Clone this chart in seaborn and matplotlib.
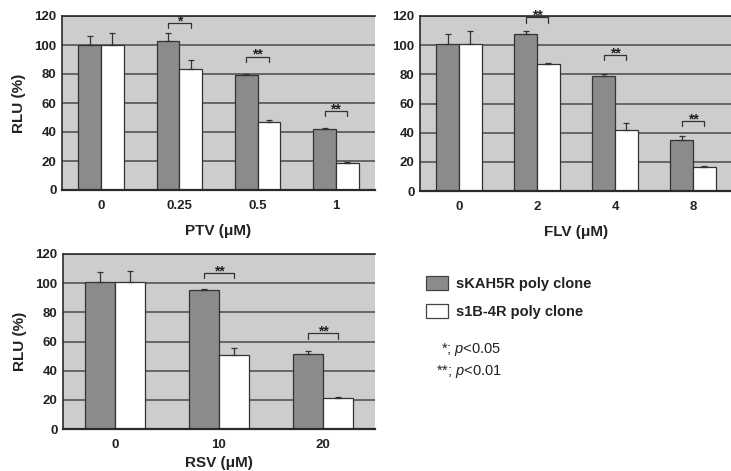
import matplotlib
matplotlib.use("Agg")
import matplotlib.pyplot as plt
import seaborn as sns
import pandas as pd

# ---------------- data ----------------
clones = ["sKAH5R poly clone", "s1B-4R poly clone"]

ptv_doses = ["0", "0.25", "0.5", "1"]
ptv_skah = [100, 103, 79, 42]
ptv_s1b = [100, 83.5, 47, 18.5]
ptv_skah_err = [6.5, 5.5, 1.0, 1.0]
ptv_s1b_err = [8.0, 6.0, 1.0, 0.8]
ptv_sig = ["", "*", "**", "**"]
ptv_sig_y = [0, 115, 92, 54.5]

flv_doses = ["0", "2", "4", "8"]
flv_skah = [101, 108, 79, 35]
flv_s1b = [101, 87, 41.5, 16.5]
flv_skah_err = [7.0, 2.0, 1.2, 2.8]
flv_s1b_err = [9.0, 1.0, 5.0, 0.8]
flv_sig = ["", "**", "**", "**"]
flv_sig_y = [0, 119, 93, 48]

rsv_doses = ["0", "10", "20"]
rsv_skah = [100.5, 95, 51.5]
rsv_s1b = [100.5, 50.5, 21]
rsv_skah_err = [7.5, 0.8, 2.3]
rsv_s1b_err = [8.0, 5.0, 1.0]
rsv_sig = ["", "**", "**"]
rsv_sig_y = [0, 107, 65.5]

y_ticks = [0, 20, 40, 60, 80, 100, 120]

# ---------------- style ----------------
sns.set_theme(style="white")
plt.rcParams["font.family"] = ["Liberation Sans", "DejaVu Sans"]
plt.rcParams["mathtext.fontset"] = "custom"
plt.rcParams["mathtext.it"] = "Liberation Sans:italic"
plt.rcParams["mathtext.rm"] = "Liberation Sans"

BG = "#cdcdcd"
GRAY = "#8b8b8b"
EDGE = "#333333"
GRID = "#4a4a4a"
TXT = "#222222"

fig = plt.figure(figsize=(7.31, 4.71), dpi=100)
W, H = 731, 471


def ax_at(l, t, r, b):
    return fig.add_axes([l / W, 1 - b / H, (r - l) / W, (b - t) / H])


def panel(ax, doses, v1, v2, e1, e2, sig, sig_y, xlabel, ylabel,
          legend=False, xpad=9):
    df = pd.DataFrame({
        "dose": doses * 2,
        "clone": [clones[0]] * len(doses) + [clones[1]] * len(doses),
        "value": list(v1) + list(v2),
    })
    sns.barplot(data=df, x="dose", y="value", hue="clone", order=doses,
                hue_order=clones, palette=[GRAY, "white"], width=0.58,
                edgecolor=EDGE, linewidth=0.9, errorbar=None, ax=ax,
                legend=legend, saturation=1)
    ax.set_facecolor(BG)
    ax.set_axisbelow(True)
    ax.yaxis.grid(True, color=GRID, linewidth=1.1)
    ax.xaxis.grid(False)
    ax.set_ylim(0, 120)
    ax.set_yticks(y_ticks)
    ax.set_xlim(-0.5, len(doses) - 0.5)
    for s in ["top", "left", "bottom"]:
        ax.spines[s].set_visible(True)
        ax.spines[s].set_color("#2a2a2a")
        ax.spines[s].set_linewidth(1.2)
    ax.spines["bottom"].set_linewidth(1.6)
    ax.spines["right"].set_visible(False)
    ax.tick_params(axis="y", length=0, pad=4, labelsize=9.5)
    ax.tick_params(axis="x", length=0, pad=7, labelsize=9.5)
    for lab in ax.get_xticklabels() + ax.get_yticklabels():
        lab.set_fontweight("bold")
        lab.set_color(TXT)
    ax.set_xticks([i + 0.5 for i in range(len(doses) - 1)], minor=True)
    ax.tick_params(axis="x", which="minor", direction="in", length=2.5,
                   color="#555555", width=0.8)
    ax.set_xlabel(xlabel, fontsize=11, fontweight="bold", color=TXT,
                  labelpad=xpad)
    if ylabel:
        ax.set_ylabel(ylabel, fontsize=11, fontweight="bold",
                      color=TXT, labelpad=6)
    else:
        ax.set_ylabel("")

    # error bars (upper only)
    for cont, errs in zip(ax.containers[:2], [e1, e2]):
        for p, e in zip(cont.patches, errs):
            x = p.get_x() + p.get_width() / 2
            h = p.get_height()
            ax.errorbar([x], [h], yerr=[[0], [e]], fmt="none",
                        ecolor="#333333", elinewidth=0.9, capsize=2.5,
                        capthick=0.9, zorder=4)

    # significance brackets
    for i, (s, y) in enumerate(zip(sig, sig_y)):
        if not s:
            continue
        p1 = ax.containers[0].patches[i]
        p2 = ax.containers[1].patches[i]
        xa = p1.get_x() + p1.get_width() / 2
        xb = p2.get_x() + p2.get_width() / 2
        ax.plot([xa, xa, xb, xb], [y - 3.5, y, y, y - 3.5], color="#333333",
                linewidth=0.9, clip_on=False, zorder=5)
        ax.text((xa + xb) / 2, y - 1.5, s, ha="center", va="baseline",
                fontsize=10, fontweight="bold", color=TXT, clip_on=False,
                zorder=5)


ax1 = ax_at(62, 16, 375, 190)
panel(ax1, ptv_doses, ptv_skah, ptv_s1b, ptv_skah_err, ptv_s1b_err,
      ptv_sig, ptv_sig_y, "PTV (\u03bcM)", "RLU (%)", legend=True)
handles, labels = ax1.get_legend_handles_labels()
if ax1.get_legend() is not None:
    ax1.get_legend().remove()

ax2 = ax_at(420, 16, 732, 191)
panel(ax2, flv_doses, flv_skah, flv_s1b, flv_skah_err, flv_s1b_err,
      flv_sig, flv_sig_y, "FLV (\u03bcM)", "")

ax3 = ax_at(63, 254, 375, 429)
panel(ax3, rsv_doses, rsv_skah, rsv_s1b, rsv_skah_err, rsv_s1b_err,
      rsv_sig, rsv_sig_y, "RSV (\u03bcM)", "RLU (%)", xpad=4)

leg = fig.legend(handles, labels, loc="upper left",
                 bbox_to_anchor=(426 / W, 1 - 276 / H), frameon=False,
                 prop={"family": "Liberation Sans", "weight": "bold",
                       "size": 10.5},
                 handlelength=1.5, handleheight=1.1, labelspacing=0.9,
                 handletextpad=0.55, borderpad=0, borderaxespad=0)
for t in leg.get_texts():
    t.set_color(TXT)
for h in leg.legend_handles:
    h.set_edgecolor("#444444")

fig.text(441 / W, 1 - 349 / H, "*; $p$<0.05", ha="left", va="center",
         fontsize=10.5, color=TXT)
fig.text(436 / W, 1 - 371 / H, "**; $p$<0.01", ha="left", va="center",
         fontsize=10.5, color=TXT)

fig.savefig("out.png", dpi=100, facecolor="white")
